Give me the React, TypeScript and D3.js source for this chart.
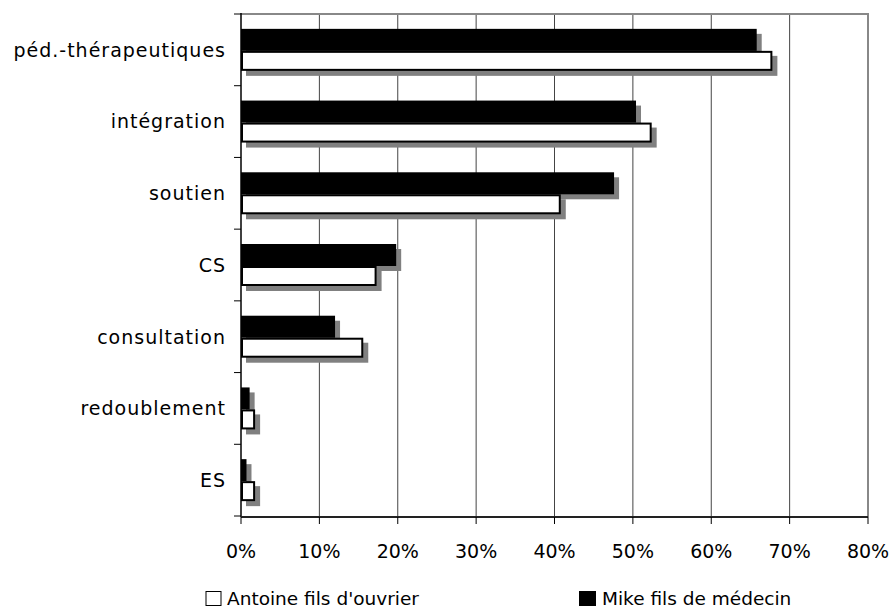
import React from "react";
import * as d3 from "d3";

const categories: string[] = [
  "péd.-thérapeutiques",
  "intégration",
  "soutien",
  "CS",
  "consultation",
  "redoublement",
  "ES",
];
// values in percent
const mikeValues: number[] = [65.8, 50.4, 47.6, 19.8, 12.0, 1.1, 0.7];
const antoineValues: number[] = [67.8, 52.4, 40.8, 17.3, 15.6, 1.8, 1.8];
const xTicks: number[] = [0, 10, 20, 30, 40, 50, 60, 70, 80];
const seriesNames: string[] = ["Antoine fils d'ouvrier", "Mike fils de médecin"];

const width = 894;
const height = 609;
const font = "'DejaVu Sans', Verdana, sans-serif";

const App = () => {
  var x = d3.scaleLinear().domain([0, 80]).range([241, 868]);
  var y = d3.scaleBand<string>().domain(categories).range([14, 516]);

  const barH = 21;
  const sh = 5; // shadow offset

  return (
    <svg
      width={width}
      height={height}
      style={{ position: "absolute", left: 0, top: 0, background: "#fff" }}
      fontFamily={font}
    >
      {/* gridlines */}
      {xTicks.slice(1, -1).map((t) => (
        <line key={"g" + t} x1={x(t)} x2={x(t)} y1={14} y2={516} stroke="#444" strokeWidth={1} />
      ))}
      {/* frame top / right */}
      <line x1={241} x2={868} y1={14} y2={14} stroke="#888" strokeWidth={2} />
      <line x1={868} x2={868} y1={13} y2={517} stroke="#888" strokeWidth={2} />

      {/* shadows */}
      {categories.map((c, i) => {
        const cy = y(c)! + y.bandwidth() / 2;
        return (
          <g key={"s" + c} fill="#808080">
            <rect x={x(0) + sh} y={cy - barH + sh} width={x(mikeValues[i]) - x(0)} height={barH + 1} />
            <rect x={x(0) + sh} y={cy + 1 + sh} width={x(antoineValues[i]) - x(0)} height={barH - 1} />
          </g>
        );
      })}
      {/* bars */}
      {categories.map((c, i) => {
        const cy = y(c)! + y.bandwidth() / 2;
        return (
          <g key={"b" + c}>
            <rect x={x(0)} y={cy - barH} width={x(mikeValues[i]) - x(0)} height={barH + 1} fill="#000" />
            <rect
              x={x(0) + 1}
              y={cy + 2}
              width={Math.max(0, x(antoineValues[i]) - x(0) - 2)}
              height={barH - 3}
              fill="#fff"
              stroke="#000"
              strokeWidth={2}
            />
          </g>
        );
      })}

      {/* axes */}
      <line x1={241} x2={241} y1={13} y2={517} stroke="#000" strokeWidth={1.5} />
      <line x1={241} x2={868} y1={517} y2={517} stroke="#222" strokeWidth={2} />
      {d3.range(categories.length + 1).map((k) => {
        const yy = 14 + k * y.step();
        return <line key={"yt" + k} x1={234} x2={241} y1={yy} y2={yy} stroke="#000" strokeWidth={1} />;
      })}
      {xTicks.map((t) => (
        <line key={"xt" + t} x1={x(t)} x2={x(t)} y1={517} y2={524} stroke="#000" strokeWidth={1} />
      ))}
      {xTicks.map((t) => (
        <text key={"xl" + t} x={x(t)} y={558} textAnchor="middle" fontSize={19} fill="#000">
          {t + "%"}
        </text>
      ))}
      {categories.map((c) => (
        <text
          key={"yl" + c}
          x={226}
          y={y(c)! + y.bandwidth() / 2}
          dy="0.36em"
          textAnchor="end"
          fontSize={19}
          letterSpacing={1}
          fill="#000"
        >
          {c}
        </text>
      ))}

      {/* legend */}
      <rect x={206} y={591.5} width={15} height={14} fill="#fff" stroke="#000" strokeWidth={1} />
      <text x={227} y={605} fontSize={18.5} fill="#000">
        {seriesNames[0]}
      </text>
      <rect x={579} y={591} width={17} height={15} fill="#000" />
      <text x={602} y={605} fontSize={18.5} fill="#000">
        {seriesNames[1]}
      </text>
    </svg>
  );
};

export default App;
